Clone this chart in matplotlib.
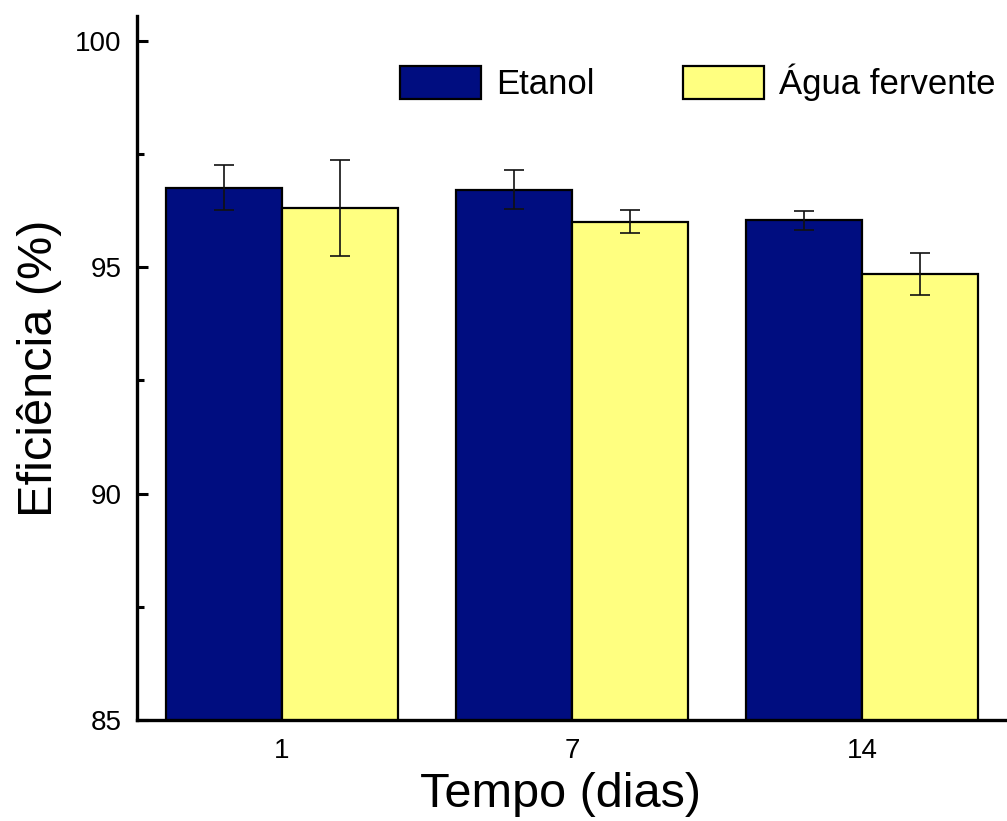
import matplotlib
matplotlib.use('Agg')
import matplotlib.pyplot as plt
from matplotlib.ticker import MultipleLocator
import numpy as np

plt.rcParams['font.family'] = ['Liberation Sans', 'DejaVu Sans']

# data
dias = ['1', '7', '14']
etanol = [96.76, 96.71, 96.04]
etanol_err = [0.50, 0.43, 0.21]
agua = [96.31, 96.01, 94.85]
agua_err = [1.06, 0.25, 0.46]

c_etanol = '#000D80'
c_agua = '#FFFF80'

fig = plt.figure(figsize=(10.07, 8.21), dpi=100)
ax = fig.add_axes([137/1007, 101/821, 870/1007, 704/821])

x = np.arange(len(dias))
w = 0.4
err_kw = dict(ecolor='#111', elinewidth=1.2, capsize=7.5, capthick=1.2)
ax.bar(x - w/2, etanol, w, yerr=etanol_err, color=c_etanol, edgecolor='black',
       linewidth=1.6, label='Etanol', error_kw=err_kw, zorder=2)
ax.bar(x + w/2, agua, w, yerr=agua_err, color=c_agua, edgecolor='black',
       linewidth=1.6, label='Água fervente', error_kw=err_kw, zorder=2)

ax.set_xlim(-0.5, 2.5)
ax.set_ylim(85, 100.55)
ax.set_xticks(x)
ax.set_xticklabels(dias)
ax.yaxis.set_major_locator(MultipleLocator(5))
ax.yaxis.set_minor_locator(MultipleLocator(2.5))

for s in ['top', 'right']:
    ax.spines[s].set_visible(False)
for s in ['left', 'bottom']:
    ax.spines[s].set_linewidth(2.4)

ax.tick_params(axis='y', which='major', direction='in', length=8, width=2.2,
               labelsize=20, pad=11)
ax.tick_params(axis='y', which='minor', direction='in', length=5, width=2.2)
ax.tick_params(axis='x', which='major', direction='in', length=0,
               labelsize=20, pad=13)

ax.set_ylabel('Eficiência (%)', fontsize=35)
ax.yaxis.set_label_coords(-0.086, 0.5)
ax.set_xlabel('Tempo (dias)', fontsize=35)
ax.xaxis.set_label_coords(0.487, -0.074)

leg = ax.legend(loc='center left', bbox_to_anchor=(400/1007, 1 - 82.5/821),
                bbox_transform=fig.transFigure, ncol=2, frameon=False,
                fontsize=25, handlelength=2.33, handleheight=1.12,
                handletextpad=0.43, columnspacing=2.56, borderpad=0,
                borderaxespad=0)

fig.savefig('out.png', dpi=100, facecolor='white')
plt.close(fig)
